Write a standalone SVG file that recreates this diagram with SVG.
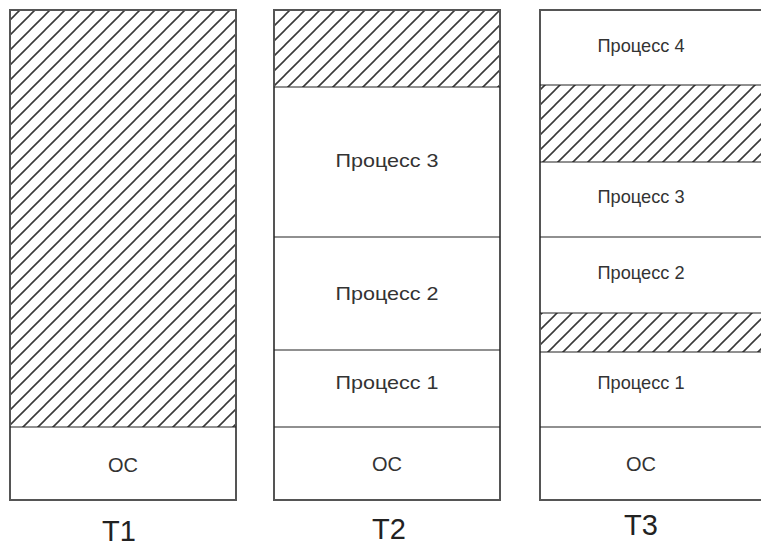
<svg xmlns="http://www.w3.org/2000/svg" width="761" height="546" viewBox="0 0 761 546">
<defs>
<pattern id="hatch" patternUnits="userSpaceOnUse" width="15" height="15">
<path d="M-3.75,3.75 L3.75,-3.75 M0,15 L15,0 M11.25,18.75 L18.75,11.25" stroke="#3a3a3a" stroke-width="1.6" fill="none"/>
</pattern>
<style>
.col{fill:#fff;stroke:#555;stroke-width:2}
.h{fill:url(#hatch)}
.ln{stroke:#222;stroke-width:1.2;fill:none}
.t{font-family:"Liberation Sans",Arial,sans-serif;font-size:19px;fill:#333;text-anchor:middle}
.oc{font-family:"Liberation Sans",Arial,sans-serif;font-size:20px;fill:#333;text-anchor:middle}
.lbl{font-family:"Liberation Sans",Arial,sans-serif;font-size:29px;fill:#222;text-anchor:middle}
</style>
</defs>
<rect width="761" height="546" fill="#fff"/>
<g id="col1">
<rect class="col" x="10" y="10" width="226" height="490"/>
<rect class="h" x="11" y="11" width="224" height="416"/>
<line class="ln" x1="10" y1="427" x2="236" y2="427"/>
<text class="oc" x="123" y="472">OC</text>
<text class="lbl" x="119" y="541">T1</text>
</g>
<g id="col2">
<rect class="col" x="274" y="10" width="226" height="490"/>
<rect class="h" x="275" y="11" width="224" height="76"/>
<line class="ln" x1="274" y1="87" x2="500" y2="87"/>
<line class="ln" x1="274" y1="237" x2="500" y2="237"/>
<line class="ln" x1="274" y1="350" x2="500" y2="350"/>
<line class="ln" x1="274" y1="427" x2="500" y2="427"/>
<text class="t" x="387" y="167" textLength="103" lengthAdjust="spacingAndGlyphs">Процесс 3</text>
<text class="t" x="387" y="300" textLength="103" lengthAdjust="spacingAndGlyphs">Процесс 2</text>
<text class="t" x="387" y="389" textLength="103" lengthAdjust="spacingAndGlyphs">Процесс 1</text>
<text class="oc" x="387" y="471">OC</text>
<text class="lbl" x="389" y="539">T2</text>
</g>
<g id="col3">
<rect class="col" x="540" y="10" width="240" height="490"/>
<rect class="h" x="541" y="85" width="230" height="77"/>
<rect class="h" x="541" y="313" width="230" height="39"/>
<line class="ln" x1="540" y1="85" x2="761" y2="85"/>
<line class="ln" x1="540" y1="162" x2="761" y2="162"/>
<line class="ln" x1="540" y1="237" x2="761" y2="237"/>
<line class="ln" x1="540" y1="313" x2="761" y2="313"/>
<line class="ln" x1="540" y1="352" x2="761" y2="352"/>
<line class="ln" x1="540" y1="427" x2="761" y2="427"/>
<text class="t" x="641" y="52" textLength="87" lengthAdjust="spacingAndGlyphs">Процесс 4</text>
<text class="t" x="641" y="203" textLength="87" lengthAdjust="spacingAndGlyphs">Процесс 3</text>
<text class="t" x="641" y="279" textLength="87" lengthAdjust="spacingAndGlyphs">Процесс 2</text>
<text class="t" x="641" y="389" textLength="87" lengthAdjust="spacingAndGlyphs">Процесс 1</text>
<text class="oc" x="641" y="471">OC</text>
<text class="lbl" x="641" y="535">T3</text>
</g>
</svg>
